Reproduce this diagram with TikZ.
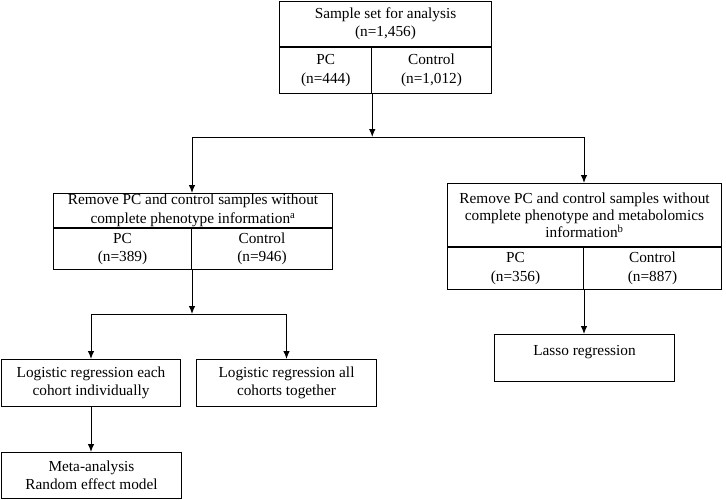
\documentclass[tikz,border=0pt]{standalone}
\usepackage{fontspec}
\setmainfont{Liberation Serif}
\usetikzlibrary{positioning, arrows.meta}

\tikzset{
  cell/.style={draw, rectangle, align=center, inner sep=0pt, line width=1pt,
    font=\fontsize{15.3}{18.5}\selectfont},
  flow/.style={-{Latex[length=8pt,width=6.5pt]}, line width=1pt},
}

\begin{document}
\begin{tikzpicture}[x=1pt,y=-1pt]
\useasboundingbox (0,0) rectangle (726,499);
% sample set
\node[cell, minimum width=211.5pt, minimum height=45.5pt, anchor=north west] (sample) at (279.25,0.5) {Sample set for analysis\\(n=1,456)};
\node[cell, minimum width=92pt, minimum height=46pt, anchor=north west] (pcall) at (sample.south west) {PC\\(n=444)};
\node[cell, minimum width=119.5pt, minimum height=46pt, anchor=north east] (ctrlall) at (sample.south east) {Control\\(n=1,012)};
% phenotype only
\node[cell, minimum width=279pt, minimum height=34pt, anchor=north west] (pheno) at (53,193) {Remove PC and control samples without\\complete phenotype information\textsuperscript{a}};
\node[cell, minimum width=138pt, minimum height=41pt, anchor=north west] (pcpheno) at (pheno.south west) {PC\\(n=389)};
\node[cell, minimum width=141pt, minimum height=41pt, anchor=north east] (ctrlpheno) at (pheno.south east) {Control\\(n=946)};
% phenotype and metabolomics
\node[cell, minimum width=274pt, minimum height=63pt, font=\fontsize{15.3}{17}\selectfont, anchor=north west] (metab) at (447,183) {Remove PC and control samples without\\complete phenotype and metabolomics\\information\textsuperscript{b}};
\node[cell, minimum width=136pt, minimum height=42pt, anchor=north west] (pcmetab) at (metab.south west) {PC\\(n=356)};
\node[cell, minimum width=138pt, minimum height=42pt, anchor=north east] (ctrlmetab) at (metab.south east) {Control\\(n=887)};
% analyses
\node[cell, minimum width=179pt, minimum height=47pt, anchor=north west] (logeach) at (1,359) {Logistic regression each\\cohort individually};
\node[cell, minimum width=180pt, minimum height=47pt, anchor=north west] (logall) at (196,359) {Logistic regression all\\cohorts together};
\node[cell, minimum width=180pt, minimum height=46pt, anchor=north west] (meta) at (1,452) {Meta-analysis\\Random effect model};
\node[cell, minimum width=180pt, minimum height=47pt, text height=11pt, text depth=16pt, anchor=north west] (lasso) at (494,334) {Lasso regression};

\coordinate (splittop) at (pcall.south east |- 0,137);
\coordinate (splitpheno) at (pcpheno.south east |- 0,314);

\draw[flow] (pcall.south east) -- (splittop);
\draw[flow] (splittop) -| (pheno.north -| pcpheno.east);
\draw[flow] (splittop) -| (metab.north -| pcmetab.east);
\draw[flow] (pcpheno.south east) -- (splitpheno);
\draw[flow] (splitpheno) -| (logeach.north);
\draw[flow] (splitpheno) -| (logall.north);
\draw[flow] (logeach.south) -- (logeach.south |- meta.north);
\draw[flow] (pcmetab.south east) -- (pcmetab.south east |- lasso.north);
\end{tikzpicture}
\end{document}
